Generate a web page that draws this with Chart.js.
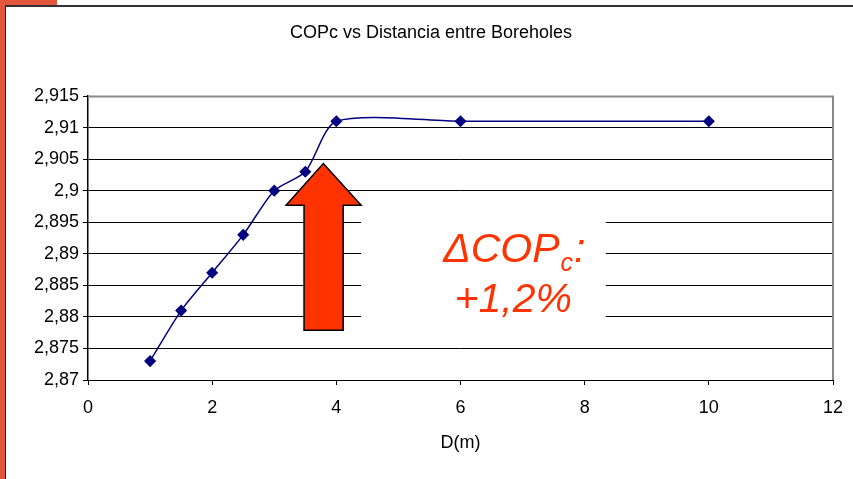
<!DOCTYPE html>
<html>
<head>
<meta charset="utf-8">
<script src="https://cdn.jsdelivr.net/npm/chart.js@4/dist/chart.umd.min.js"></script>
<style>
  body { margin: 0; background: #fff; width: 853px; height: 479px; overflow: hidden; position: relative; }
  #redLeft { position: absolute; left: 0; top: 0; width: 5px; height: 479px; background: #e2563b; }
  #redTop { position: absolute; left: 0; top: 0; width: 57px; height: 5px; background: #e2563b; }
  #frame { position: absolute; left: 5px; top: 5px; width: 860px; height: 490px; border-left: 1px solid #222; border-top: 2px solid #333; }
  #box { position: absolute; left: 6px; top: 6px; width: 870px; height: 473px; }
</style>
</head>
<body>
<div id="redLeft"></div>
<div id="redTop"></div>
<div id="frame"></div>
<div id="box"><canvas id="myChart"></canvas></div>
<script>
const dist = [1, 1.5, 2, 2.5, 3, 3.5, 4, 6, 10];
const copc = [2.873, 2.881, 2.887, 2.893, 2.900, 2.903, 2.911, 2.911, 2.911];
const yTickLabels = ['2,87', '2,875', '2,88', '2,885', '2,89', '2,895', '2,9', '2,905', '2,91', '2,915'];
const chartTitle = 'COPc vs Distancia entre Boreholes';
const xTitle = 'D(m)';
const noteLine1 = 'ΔCOP';
const noteSub = 'c';
const noteLine2 = '+1,2%';

const FONT = 'Liberation Sans, Arial, sans-serif';

// arrow + text box, placed in data units and converted by the scales
const callout = {
  id: 'callout',
  beforeDatasetsDraw(chart) {
    const c = chart.ctx, x = chart.scales.x, y = chart.scales.y;
    // white box behind the text
    const bx1 = x.getPixelForValue(4.4), bx2 = x.getPixelForValue(8.34);
    const by1 = y.getPixelForValue(2.8993), by2 = y.getPixelForValue(2.8771);
    c.save();
    c.fillStyle = '#fff';
    c.fillRect(bx1, by1, bx2 - bx1, by2 - by1);

    // plot area border, top and right
    const a = chart.chartArea;
    c.strokeStyle = '#8a8a8a';
    c.lineWidth = 2;
    c.beginPath();
    c.moveTo(a.left, a.top + 0.5);
    c.lineTo(a.right, a.top + 0.5);
    c.lineTo(a.right, a.bottom);
    c.stroke();

    // arrow
    const tipX = x.getPixelForValue(3.79), tipY = y.getPixelForValue(2.9043);
    const headY = y.getPixelForValue(2.8977);
    const hl = x.getPixelForValue(3.19), hr = x.getPixelForValue(4.4);
    const sl = x.getPixelForValue(3.48), sr = x.getPixelForValue(4.11);
    const botY = y.getPixelForValue(2.8779);
    c.beginPath();
    c.moveTo(tipX, tipY);
    c.lineTo(hr, headY);
    c.lineTo(sr, headY);
    c.lineTo(sr, botY);
    c.lineTo(sl, botY);
    c.lineTo(sl, headY);
    c.lineTo(hl, headY);
    c.closePath();
    c.fillStyle = '#ff3300';
    c.fill();
    c.strokeStyle = '#000';
    c.lineWidth = 1.5;
    c.stroke();

    // text
    c.fillStyle = '#ff3300';
    c.textBaseline = 'alphabetic';
    c.font = 'italic 41px ' + FONT;
    const cx = x.getPixelForValue(6.85);
    const b1 = y.getPixelForValue(2.8887);
    const b2 = y.getPixelForValue(2.8808);
    const w1 = c.measureText(noteLine1).width;
    c.font = 'italic 25px ' + FONT;
    const ws = c.measureText(noteSub).width;
    c.font = 'italic 41px ' + FONT;
    const wc = c.measureText(':').width;
    let sx = cx - (w1 + ws + wc) / 2;
    c.textAlign = 'left';
    c.fillText(noteLine1, sx, b1);
    c.font = 'italic 25px ' + FONT;
    c.fillText(noteSub, sx + w1 + 1, b1 + 9);
    c.font = 'italic 41px ' + FONT;
    c.fillText(':', sx + w1 + ws + 2, b1);
    c.textAlign = 'center';
    c.fillText(noteLine2, cx, b2);
    c.restore();
  }
};

new Chart(document.getElementById('myChart').getContext('2d'), {
  type: 'line',
  data: {
    datasets: [{
      label: 'COPc',
      data: dist.map((d, i) => ({ x: d, y: copc[i] })),
      borderColor: '#000080',
      backgroundColor: '#000080',
      borderWidth: 1.5,
      pointStyle: 'rectRot',
      pointRadius: 5,
      pointHoverRadius: 5,
      tension: 0.25,
      fill: false
    }]
  },
  options: {
    responsive: true,
    maintainAspectRatio: false,
    animation: false,
    layout: { padding: { left: 23, right: 43, top: 0, bottom: 0 } },
    plugins: {
      legend: { display: false },
      tooltip: { enabled: false },
      title: {
        display: true,
        text: chartTitle,
        color: '#000',
        font: { family: FONT, size: 18, weight: 'normal' },
        padding: { top: 16.2, bottom: 52.2 }
      }
    },
    scales: {
      x: {
        type: 'linear',
        min: 0,
        max: 12,
        afterFit(scale) { scale.height = 99; },
        ticks: {
          stepSize: 2,
          color: '#000',
          padding: 12,
          maxRotation: 0,
          font: { family: FONT, size: 18 }
        },
        grid: { drawOnChartArea: false, drawTicks: true, tickLength: 5, color: '#000' },
        border: { color: '#000', width: 1 },
        title: {
          display: true,
          text: xTitle,
          color: '#000',
          font: { family: FONT, size: 18 },
          padding: { top: 0, bottom: 25 }
        }
      },
      y: {
        min: 2.87,
        max: 2.915,
        afterFit(scale) { scale.width = 59; },
        ticks: {
          stepSize: 0.005,
          color: '#000',
          padding: 4,
          font: { family: FONT, size: 18 },
          callback(value, index) { return yTickLabels[index]; }
        },
        grid: { color: '#000', lineWidth: 1, tickLength: 5 },
        border: { color: '#000', width: 1.5 }
      }
    }
  },
  plugins: [callout]
});
</script>
</body>
</html>
